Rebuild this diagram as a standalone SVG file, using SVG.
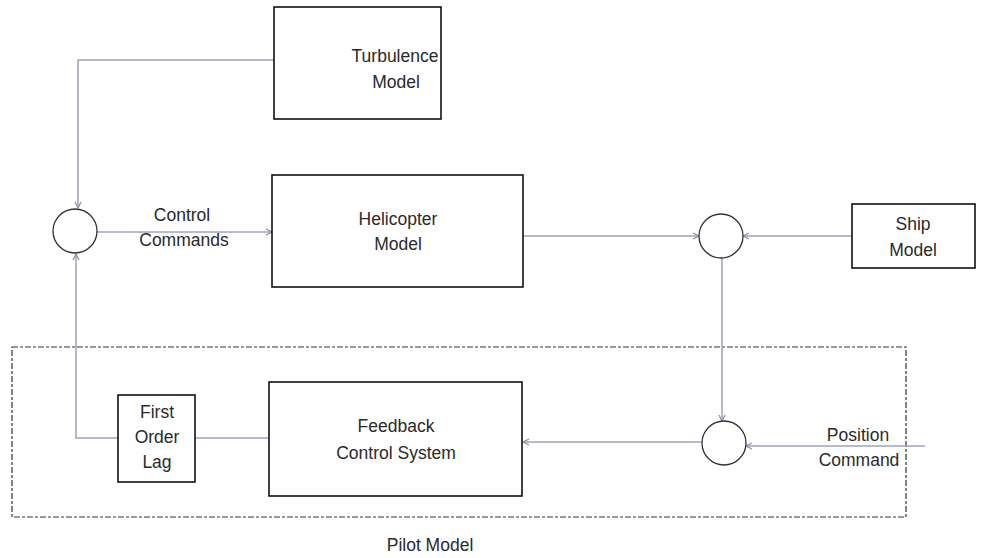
<svg xmlns="http://www.w3.org/2000/svg" width="987" height="558" viewBox="0 0 987 558">
<style>
.box{fill:#fff;stroke:#111;stroke-width:1.6}
.sum{fill:#fff;stroke:#333;stroke-width:1.3}
.ln{fill:none;stroke:#9ea3b8;stroke-width:1.5}
.lbl{font-family:"Liberation Sans","Arial",sans-serif;font-size:17.5px;fill:#2a2a2a;text-anchor:middle}
</style>
<defs>
<marker id="ah" markerWidth="8" markerHeight="8" refX="7" refY="4" orient="auto" markerUnits="userSpaceOnUse">
<path d="M1,1 L7,4 L1,7" fill="none" stroke="#8a8fa6" stroke-width="1.2"/>
</marker>
</defs>
<rect width="987" height="558" fill="#fff"/>
<g id="pilot-model">
<rect x="12" y="347" width="894" height="170" fill="none" stroke="#333" stroke-width="1.2" stroke-dasharray="6,2,3,2"/>
<text class="lbl" x="430" y="551">Pilot Model</text>
</g>
<g id="connectors">
<polyline class="ln" points="274,60 78,60 78,208" marker-end="url(#ah)"/>
<line class="ln" x1="97" y1="232" x2="272" y2="232" marker-end="url(#ah)"/>
<line class="ln" x1="523" y1="236" x2="699" y2="236" marker-end="url(#ah)"/>
<line class="ln" x1="852" y1="236" x2="743" y2="236" marker-end="url(#ah)"/>
<line class="ln" x1="722" y1="258" x2="722" y2="421" marker-end="url(#ah)"/>
<line class="ln" x1="925" y1="446" x2="746" y2="446" marker-end="url(#ah)"/>
<line class="ln" x1="702" y1="442" x2="523" y2="442" marker-end="url(#ah)"/>
<line class="ln" x1="269" y1="438" x2="195" y2="438"/>
<polyline class="ln" points="118,438 76,438 76,254" marker-end="url(#ah)"/>
</g>
<g id="turbulence-model">
<rect class="box" x="274" y="7" width="167" height="112"/>
<text class="lbl" x="395" y="62">Turbulence</text>
<text class="lbl" x="396" y="88">Model</text>
</g>
<g id="helicopter-model">
<rect class="box" x="272" y="175" width="251" height="112"/>
<text class="lbl" x="398" y="225">Helicopter</text>
<text class="lbl" x="398" y="250">Model</text>
</g>
<g id="ship-model">
<rect class="box" x="852" y="204" width="123" height="64"/>
<text class="lbl" x="913" y="230">Ship</text>
<text class="lbl" x="913" y="256">Model</text>
</g>
<g id="feedback-control">
<rect class="box" x="269" y="382" width="253" height="114"/>
<text class="lbl" x="396" y="432">Feedback</text>
<text class="lbl" x="396" y="459">Control System</text>
</g>
<g id="first-order-lag">
<rect class="box" x="118" y="395" width="77" height="87"/>
<text class="lbl" x="157" y="418">First</text>
<text class="lbl" x="157" y="443">Order</text>
<text class="lbl" x="157" y="468">Lag</text>
</g>
<g id="sum1"><circle class="sum" cx="75" cy="231" r="22"/></g>
<g id="sum2"><circle class="sum" cx="721" cy="236" r="22"/></g>
<g id="sum3"><circle class="sum" cx="724" cy="443" r="22"/></g>
<g id="labels">
<text class="lbl" x="182" y="221">Control</text>
<text class="lbl" x="184" y="246">Commands</text>
<text class="lbl" x="858" y="441">Position</text>
<text class="lbl" x="859" y="466">Command</text>
</g>
</svg>
